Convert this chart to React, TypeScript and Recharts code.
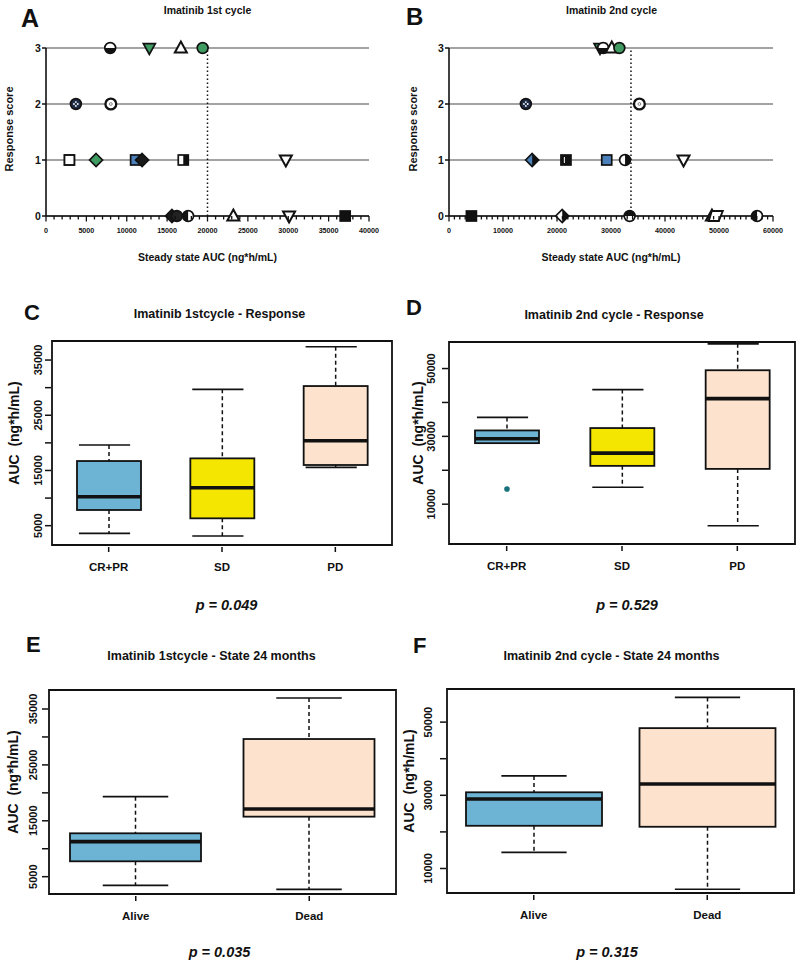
import React from 'react';
import {
  ScatterChart,
  Scatter,
  ComposedChart,
  Bar,
  XAxis,
  YAxis,
  CartesianGrid,
  ReferenceLine,
  ReferenceArea,
  Label,
} from 'recharts';

const FONT = '"Liberation Sans", Arial, Helvetica, sans-serif';
const INK = '#111';

// Panels A/B: steady state AUC (ng*h/mL) against response score, one marker per patient
const cycle1Points = [
  { auc: 7950, score: 3, marker: 'circleHalfBottom' },
  { auc: 12800, score: 3, marker: 'triDownGreen' },
  { auc: 16700, score: 3, marker: 'triUpOpen' },
  { auc: 19400, score: 3, marker: 'circleGreen' },
  { auc: 3700, score: 2, marker: 'circleDots' },
  { auc: 8030, score: 2, marker: 'circleRing' },
  { auc: 2900, score: 1, marker: 'squareOpen' },
  { auc: 6200, score: 1, marker: 'diamondGreen' },
  { auc: 11100, score: 1, marker: 'squareBlue' },
  { auc: 11900, score: 1, marker: 'diamondBlack' },
  { auc: 17000, score: 1, marker: 'squareHalfRight' },
  { auc: 29700, score: 1, marker: 'triDownOpen' },
  { auc: 15600, score: 0, marker: 'diamondBlack' },
  { auc: 16200, score: 0, marker: 'circleDark' },
  { auc: 17600, score: 0, marker: 'circleHalfLeft' },
  { auc: 23200, score: 0, marker: 'triUpOpen' },
  { auc: 30100, score: 0, marker: 'triDownOpen' },
  { auc: 37050, score: 0, marker: 'squareBlack' },
];

const cycle2Points = [
  { auc: 27970, score: 3, marker: 'triDownGreen' },
  { auc: 28550, score: 3, marker: 'circleHalfBottom' },
  { auc: 30140, score: 3, marker: 'triUpOpen' },
  { auc: 31550, score: 3, marker: 'circleGreen' },
  { auc: 14230, score: 2, marker: 'circleDots' },
  { auc: 35260, score: 2, marker: 'circleRing' },
  { auc: 15400, score: 1, marker: 'diamondHalfBlue' },
  { auc: 21660, score: 1, marker: 'squareBlackSlit' },
  { auc: 29210, score: 1, marker: 'squareBlue' },
  { auc: 32600, score: 1, marker: 'circleHalfRight' },
  { auc: 43430, score: 1, marker: 'triDownOpen' },
  { auc: 4150, score: 0, marker: 'squareBlack' },
  { auc: 20970, score: 0, marker: 'diamondHalfRight' },
  { auc: 33450, score: 0, marker: 'circleHalfTop' },
  { auc: 48690, score: 0, marker: 'triUpOpen' },
  { auc: 49400, score: 0, marker: 'parallelogram' },
  { auc: 57050, score: 0, marker: 'circleHalfLeft' },
];

const cycle1Threshold = 20000;
const cycle2Threshold = 33700;
const scoreTicks = [0, 1, 2, 3];
const cycle1AucTicks = [0, 5000, 10000, 15000, 20000, 25000, 30000, 35000, 40000];
const cycle2AucTicks = [0, 10000, 20000, 30000, 40000, 50000, 60000];
const minorStep = 1000;

// Panels C-F: box stats [lower whisker, Q1, median, Q3, upper whisker]
const responseGroups = ['CR+PR', 'SD', 'PD'];
const stateGroups = ['Alive', 'Dead'];

const cycle1ResponseStats = [
  [3610, 7840, 10250, 16710, 19610],
  [3130, 6330, 11880, 17190, 29690],
  [15560, 15990, 20390, 30290, 37410],
];
const cycle2ResponseStats = [
  [28000, 28000, 29290, 31750, 35590],
  [15000, 21300, 25060, 32450, 43790],
  [3640, 20410, 41120, 49500, 57300],
];
const cycle2ResponseOutliers = [[14500], [], []];
const cycle1StateStats = [
  [3460, 7750, 11270, 12760, 19320],
  [2740, 15740, 17110, 29630, 36970],
];
const cycle2StateStats = [
  [14380, 21670, 28990, 30820, 35290],
  [4330, 21400, 33100, 48360, 56740],
];

const cycle1AxisTicks = [5000, 10000, 15000, 20000, 25000, 30000, 35000];
const cycle1AxisLabels = [5000, 15000, 25000, 35000];
const cycle2AxisTicks = [10000, 20000, 30000, 40000, 50000];
const cycle2AxisLabels = [10000, 30000, 50000];

const boxFill: Record<string, string> = {
  'CR+PR': '#6cb3d4',
  SD: '#f4e600',
  PD: '#fde3cd',
  Alive: '#6cb3d4',
  Dead: '#fde3cd',
};

const toBoxes = (groups: string[], stats: number[][], outliers?: number[][]) =>
  groups.map((group, i) => ({
    group,
    low: stats[i][0],
    q1: stats[i][1],
    median: stats[i][2],
    q3: stats[i][3],
    high: stats[i][4],
    outliers: outliers ? outliers[i] : [],
  }));

const minorTicks = (max: number) =>
  Array.from({ length: max / minorStep + 1 }, (_, i) => i * minorStep);

const GREEN = '#3f9b62';
const BLUE = '#4c80bb';
const NAVY = '#1f2c48';

function Marker({ cx, cy, payload }: any) {
  if (cx == null || cy == null) return null;
  const r = 5.4;
  const s = 5;
  const sw = 1.7;
  const halfDisc = (side: string) => {
    if (side === 'bottom') return `M${cx - r},${cy} A${r},${r} 0 0 0 ${cx + r},${cy} Z`;
    if (side === 'top') return `M${cx - r},${cy} A${r},${r} 0 0 1 ${cx + r},${cy} Z`;
    if (side === 'left') return `M${cx},${cy - r} A${r},${r} 0 0 0 ${cx},${cy + r} Z`;
    return `M${cx},${cy - r} A${r},${r} 0 0 1 ${cx},${cy + r} Z`;
  };
  const triUp = `M${cx},${cy - 6.4} L${cx + 6},${cy + 4.4} L${cx - 6},${cy + 4.4} Z`;
  const triDown = `M${cx},${cy + 6.4} L${cx + 6},${cy - 4.4} L${cx - 6},${cy - 4.4} Z`;
  const diamond = `M${cx},${cy - 6.5} L${cx + 6.5},${cy} L${cx},${cy + 6.5} L${cx - 6.5},${cy} Z`;
  const ring = (fill: string) => (
    <circle cx={cx} cy={cy} r={r} fill={fill} stroke={INK} strokeWidth={sw} />
  );
  switch (payload.marker) {
    case 'circleHalfBottom':
    case 'circleHalfTop':
    case 'circleHalfLeft':
    case 'circleHalfRight': {
      const side = payload.marker.replace('circleHalf', '').toLowerCase();
      return (
        <g>
          {ring('#fff')}
          <path d={halfDisc(side)} fill={INK} />
        </g>
      );
    }
    case 'circleGreen':
      return ring(GREEN);
    case 'circleDark':
      return ring('#222');
    case 'circleDots':
      return (
        <g>
          {ring(NAVY)}
          <circle cx={cx - 1.9} cy={cy} r={0.9} fill="#fff" />
          <circle cx={cx + 1.9} cy={cy} r={0.9} fill="#fff" />
          <circle cx={cx} cy={cy - 1.9} r={0.9} fill="#fff" />
          <circle cx={cx} cy={cy + 1.9} r={0.9} fill="#fff" />
        </g>
      );
    case 'circleRing':
      return (
        <g>
          <circle cx={cx} cy={cy} r={r} fill="#fff" stroke={INK} strokeWidth={2.3} />
          <circle cx={cx} cy={cy} r={1.4} fill="none" stroke="#666" strokeWidth={0.8} />
        </g>
      );
    case 'triDownGreen':
      return <path d={triDown} fill={GREEN} stroke={INK} strokeWidth={sw} />;
    case 'triDownOpen':
      return <path d={triDown} fill="#fff" stroke={INK} strokeWidth={sw + 0.3} />;
    case 'triUpOpen':
      return <path d={triUp} fill="#fff" stroke={INK} strokeWidth={sw + 0.3} />;
    case 'diamondGreen':
      return <path d={diamond} fill={GREEN} stroke={INK} strokeWidth={sw} />;
    case 'diamondBlack':
      return <path d={diamond} fill="#1a1a1a" stroke={INK} strokeWidth={sw} />;
    case 'diamondHalfBlue':
    case 'diamondHalfRight':
      return (
        <g>
          <path d={diamond} fill={payload.marker === 'diamondHalfBlue' ? BLUE : '#fff'} stroke={INK} strokeWidth={sw} />
          <path d={`M${cx},${cy - 6.5} L${cx + 6.5},${cy} L${cx},${cy + 6.5} Z`} fill={INK} />
        </g>
      );
    case 'squareOpen':
      return <rect x={cx - s} y={cy - s} width={2 * s} height={2 * s} fill="#fff" stroke={INK} strokeWidth={sw + 0.2} />;
    case 'squareBlue':
      return <rect x={cx - s} y={cy - s} width={2 * s} height={2 * s} fill={BLUE} stroke={INK} strokeWidth={sw} />;
    case 'squareBlack':
      return <rect x={cx - s} y={cy - s} width={2 * s} height={2 * s} fill={INK} stroke={INK} strokeWidth={sw} />;
    case 'squareHalfRight':
      return (
        <g>
          <rect x={cx - s} y={cy - s} width={2 * s} height={2 * s} fill="#fff" stroke={INK} strokeWidth={sw} />
          <rect x={cx} y={cy - s} width={s} height={2 * s} fill={INK} />
        </g>
      );
    case 'squareBlackSlit':
      return (
        <g>
          <rect x={cx - s} y={cy - s} width={2 * s} height={2 * s} fill={INK} stroke={INK} strokeWidth={sw} />
          <line x1={cx - 1.6} x2={cx - 1.6} y1={cy - 3} y2={cy + 3} stroke="#fff" strokeWidth={1} />
        </g>
      );
    case 'parallelogram':
      return (
        <path
          d={`M${cx - 4},${cy - s} L${cx + 7},${cy - s} L${cx + 3},${cy + s} L${cx - 7},${cy + s} Z`}
          fill="#fff"
          stroke={INK}
          strokeWidth={sw + 0.2}
        />
      );
    default:
      return ring('#fff');
  }
}

function AucTick({ x, y, payload, labels }: any) {
  const major = labels.includes(payload.value);
  return (
    <g>
      <line x1={x} x2={x} y1={y} y2={y + (major ? 5.5 : 3.5)} stroke={INK} strokeWidth={1.3} />
      {major && (
        <text x={x} y={y + 14} textAnchor="middle" dominantBaseline="central" fontSize={7.2} fontWeight={700} fontFamily={FONT} fill={INK}>
          {payload.value}
        </text>
      )}
    </g>
  );
}

function ScoreTick({ x, y, payload }: any) {
  return (
    <g>
      <line x1={x} x2={x - 4} y1={y} y2={y} stroke={INK} strokeWidth={1.5} />
      <text x={x - 8} y={y} textAnchor="middle" dominantBaseline="central" fontSize={10.5} fontWeight={700} fontFamily={FONT} fill={INK}>
        {payload.value}
      </text>
    </g>
  );
}

function ScatterPanel({ points, ticks, threshold, left, yAxisWidth, marginRight, yLabelX }: any) {
  const max = ticks[ticks.length - 1];
  return (
    <div style={{ position: 'absolute', left, top: 0 }}>
      <ScatterChart width={400} height={290} margin={{ top: 48, right: marginRight, bottom: 0, left: 0 }}>
        <CartesianGrid vertical={false} stroke="#858585" strokeWidth={1.4} />
        <XAxis
          type="number"
          dataKey="auc"
          domain={[0, max]}
          ticks={minorTicks(max)}
          interval={0}
          height={74}
          tickSize={0}
          tickMargin={0}
          tickLine={false}
          axisLine={{ stroke: INK, strokeWidth: 1.6 }}
          tick={(p: any) => <AucTick {...p} labels={ticks} />}
        >
          <Label
            content={({ viewBox }: any) => (
              <text
                x={viewBox.x + viewBox.width / 2}
                y={viewBox.y + 41}
                textAnchor="middle"
                dominantBaseline="central"
                fontSize={10.5}
                fontWeight={700}
                fontFamily={FONT}
                fill={INK}
              >
                Steady state AUC (ng*h/mL)
              </text>
            )}
          />
        </XAxis>
        <YAxis
          type="number"
          dataKey="score"
          domain={[0, 3]}
          ticks={scoreTicks}
          interval={0}
          width={yAxisWidth}
          tickSize={0}
          tickMargin={0}
          tickLine={false}
          axisLine={{ stroke: INK, strokeWidth: 1.6 }}
          tick={(p: any) => <ScoreTick {...p} />}
        >
          <Label
            content={({ viewBox }: any) => {
              const cx = viewBox.x + yLabelX;
              const cy = viewBox.y + viewBox.height / 2 - 3;
              return (
                <text
                  x={cx}
                  y={cy}
                  transform={`rotate(-90 ${cx} ${cy})`}
                  textAnchor="middle"
                  dominantBaseline="central"
                  fontSize={11}
                  fontWeight={700}
                  fontFamily={FONT}
                  fill={INK}
                >
                  Response score
                </text>
              );
            }}
          />
        </YAxis>
        <ReferenceLine x={threshold} stroke={INK} strokeWidth={1.5} strokeDasharray="1.5 2.5" />
        <Scatter data={points} isAnimationActive={false} shape={(p: any) => <Marker {...p} />} />
      </ScatterChart>
    </div>
  );
}

function BoxShape(props: any) {
  const { x, y, width, height, payload, cap } = props;
  if (!payload || x == null) return null;
  const top = Math.min(y, y + height);
  const h = Math.abs(height);
  const span = payload.high - payload.low;
  const py = (v: number) => top + ((payload.high - v) / span) * h;
  const cx = x + width / 2;
  const c1 = x + width * cap.start;
  const c2 = c1 + width * cap.width;
  const yq3 = py(payload.q3);
  const yq1 = py(payload.q1);
  const ymed = py(payload.median);
  return (
    <g>
      {yq3 - top > 0.5 && (
        <line x1={cx} x2={cx} y1={top} y2={yq3} stroke={INK} strokeWidth={1.5} strokeDasharray="4 3" />
      )}
      {top + h - yq1 > 0.5 && (
        <line x1={cx} x2={cx} y1={yq1} y2={top + h} stroke={INK} strokeWidth={1.5} strokeDasharray="4 3" />
      )}
      <line x1={c1} x2={c2} y1={top} y2={top} stroke={INK} strokeWidth={1.7} />
      <line x1={c1} x2={c2} y1={top + h} y2={top + h} stroke={INK} strokeWidth={1.7} />
      <rect x={x} y={yq3} width={width} height={yq1 - yq3} fill={boxFill[payload.group]} stroke={INK} strokeWidth={1.8} />
      <line x1={x} x2={x + width} y1={ymed} y2={ymed} stroke={INK} strokeWidth={3.6} />
      {payload.outliers.map((o: number, i: number) => (
        <circle key={i} cx={cx} cy={py(o)} r={2.8} fill="#17727b" />
      ))}
    </g>
  );
}

function GroupTick({ x, y, payload }: any) {
  return (
    <g>
      <line x1={x} x2={x} y1={y + 2} y2={y + 7} stroke={INK} strokeWidth={1.5} />
      <text x={x} y={y + 22} textAnchor="middle" dominantBaseline="central" fontSize={11.5} fontWeight={700} fontFamily={FONT} fill={INK}>
        {payload.value}
      </text>
    </g>
  );
}

function ValueTick({ x, y, payload, labels, gap }: any) {
  return (
    <g>
      <line x1={x - 1} x2={x - 7} y1={y} y2={y} stroke={INK} strokeWidth={1.5} />
      {labels.includes(payload.value) && (
        <text
          x={x - gap}
          y={y}
          transform={`rotate(-90 ${x - gap} ${y})`}
          textAnchor="middle"
          dominantBaseline="central"
          fontSize={11}
          fontWeight={700}
          fontFamily={FONT}
          fill={INK}
        >
          {payload.value}
        </text>
      )}
    </g>
  );
}

function BoxPanel(props: any) {
  const { data, left, top, height, margin, yAxisWidth, xAxisHeight, domain, ticks, labels, barSize, cap, gap, yLabelX } = props;
  return (
    <div style={{ position: 'absolute', left, top }}>
      <ComposedChart width={400} height={height} data={data} margin={margin}>
        <XAxis
          dataKey="group"
          type="category"
          height={xAxisHeight}
          axisLine={false}
          tickLine={false}
          tickSize={0}
          tickMargin={0}
          interval={0}
          tick={(p: any) => <GroupTick {...p} />}
        />
        <YAxis
          type="number"
          domain={domain}
          ticks={ticks}
          interval={0}
          width={yAxisWidth}
          axisLine={false}
          tickLine={false}
          tickSize={0}
          tickMargin={0}
          tick={(p: any) => <ValueTick {...p} labels={labels} gap={gap} />}
        >
          <Label
            content={({ viewBox }: any) => {
              const cx = viewBox.x + yLabelX;
              const cy = viewBox.y + viewBox.height / 2 - 10;
              return (
                <text
                  x={cx}
                  y={cy}
                  transform={`rotate(-90 ${cx} ${cy})`}
                  textAnchor="middle"
                  dominantBaseline="central"
                  fontSize={14}
                  fontWeight={700}
                  fontFamily={FONT}
                  fill={INK}
                >
                  {'AUC\u00a0 (ng*h/mL)'}
                </text>
              );
            }}
          />
        </YAxis>
        <ReferenceArea y1={domain[0]} y2={domain[1]} fill="none" stroke={INK} strokeWidth={1.8} fillOpacity={0} ifOverflow="visible" />
        <Bar
          dataKey={(d: any) => [d.low, d.high]}
          barSize={barSize}
          isAnimationActive={false}
          shape={(p: any) => <BoxShape {...p} cap={cap} />}
        />
      </ComposedChart>
    </div>
  );
}

const textStyle = { fontFamily: FONT, fontWeight: 700, fill: INK } as const;

export default function App() {
  return (
    <div style={{ position: 'absolute', left: 0, top: 0, width: 800, height: 967, background: '#fff' }}>
      <ScatterPanel points={cycle1Points} ticks={cycle1AucTicks} threshold={cycle1Threshold} left={0} yAxisWidth={46} marginRight={31} yLabelX={8.5} />
      <ScatterPanel points={cycle2Points} ticks={cycle2AucTicks} threshold={cycle2Threshold} left={400} yAxisWidth={49} marginRight={27} yLabelX={12.5} />

      <BoxPanel
        data={toBoxes(responseGroups, cycle1ResponseStats)}
        left={0}
        top={290}
        height={330}
        margin={{ top: 51, right: 8, bottom: 0, left: 0 }}
        yAxisWidth={52}
        xAxisHeight={75}
        domain={[1500, 38450]}
        ticks={cycle1AxisTicks}
        labels={cycle1AxisLabels}
        barSize={64}
        cap={{ start: 0.03, width: 0.8 }}
        gap={14}
        yLabelX={13.5}
      />
      <BoxPanel
        data={toBoxes(responseGroups, cycle2ResponseStats, cycle2ResponseOutliers)}
        left={400}
        top={290}
        height={330}
        margin={{ top: 52, right: 5, bottom: 0, left: 0 }}
        yAxisWidth={49}
        xAxisHeight={76}
        domain={[-1740, 57830]}
        ticks={cycle2AxisTicks}
        labels={cycle2AxisLabels}
        barSize={64}
        cap={{ start: 0.03, width: 0.8 }}
        gap={17.5}
        yLabelX={17.5}
      />
      <BoxPanel
        data={toBoxes(stateGroups, cycle1StateStats)}
        left={0}
        top={620}
        height={347}
        margin={{ top: 70, right: 4, bottom: 0, left: 0 }}
        yAxisWidth={49}
        xAxisHeight={73}
        domain={[1900, 38400]}
        ticks={cycle1AxisTicks}
        labels={cycle1AxisLabels}
        barSize={131}
        cap={{ start: 0.25, width: 0.5 }}
        gap={16}
        yLabelX={12.5}
      />
      <BoxPanel
        data={toBoxes(stateGroups, cycle2StateStats)}
        left={400}
        top={620}
        height={347}
        margin={{ top: 69, right: 6, bottom: 0, left: 0 }}
        yAxisWidth={47}
        xAxisHeight={74}
        domain={[3300, 59050]}
        ticks={cycle2AxisTicks}
        labels={cycle2AxisLabels}
        barSize={136}
        cap={{ start: 0.26, width: 0.48 }}
        gap={18.5}
        yLabelX={9}
      />

      <svg width={800} height={967} style={{ position: 'absolute', left: 0, top: 0, pointerEvents: 'none' }}>
        <text x={21} y={27} fontSize={25} {...textStyle}>A</text>
        <text x={406} y={25} fontSize={24} {...textStyle}>B</text>
        <text x={24} y={320} fontSize={22} {...textStyle}>C</text>
        <text x={406} y={315} fontSize={22} {...textStyle}>D</text>
        <text x={26} y={652} fontSize={22} {...textStyle}>E</text>
        <text x={413} y={653} fontSize={22} {...textStyle}>F</text>

        <text x={207.5} y={9.5} fontSize={10.5} textAnchor="middle" dominantBaseline="central" {...textStyle}>Imatinib 1st cycle</text>
        <text x={611.5} y={9.5} fontSize={10.5} textAnchor="middle" dominantBaseline="central" {...textStyle}>Imatinib 2nd cycle</text>
        <text x={219.5} y={313.5} fontSize={12.5} textAnchor="middle" dominantBaseline="central" {...textStyle}>Imatinib 1stcycle - Response</text>
        <text x={614} y={315} fontSize={12.5} textAnchor="middle" dominantBaseline="central" {...textStyle}>Imatinib 2nd cycle - Response</text>
        <text x={211.5} y={656} fontSize={12.5} textAnchor="middle" dominantBaseline="central" {...textStyle}>Imatinib 1stcycle - State 24 months</text>
        <text x={611.5} y={656} fontSize={12.5} textAnchor="middle" dominantBaseline="central" {...textStyle}>Imatinib 2nd cycle - State 24 months</text>

        <text x={226.5} y={605} fontSize={14.5} fontStyle="italic" textAnchor="middle" dominantBaseline="central" {...textStyle}>p = 0.049</text>
        <text x={627} y={605} fontSize={14.5} fontStyle="italic" textAnchor="middle" dominantBaseline="central" {...textStyle}>p = 0.529</text>
        <text x={219.5} y={951.5} fontSize={14.5} fontStyle="italic" textAnchor="middle" dominantBaseline="central" {...textStyle}>p = 0.035</text>
        <text x={607} y={951.5} fontSize={14.5} fontStyle="italic" textAnchor="middle" dominantBaseline="central" {...textStyle}>p = 0.315</text>
      </svg>
    </div>
  );
}
